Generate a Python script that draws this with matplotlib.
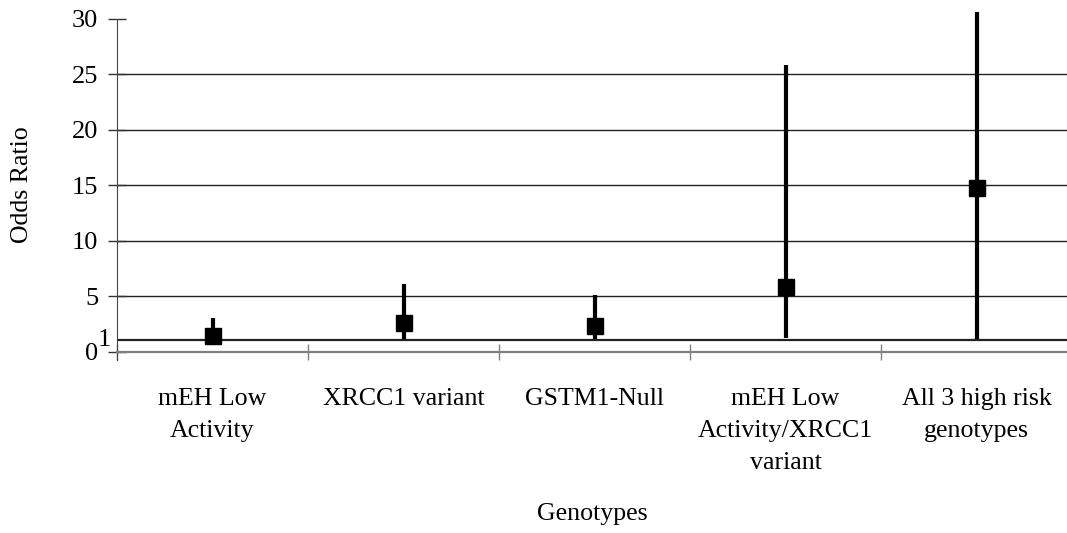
import numpy as np
import matplotlib
matplotlib.use('Agg')
import matplotlib.pyplot as plt
from matplotlib.transforms import blended_transform_factory, offset_copy

genotypes = ['mEH Low\nActivity', 'XRCC1 variant', 'GSTM1-Null',
             'mEH Low\nActivity/XRCC1\nvariant', 'All 3 high risk\ngenotypes']
odds_ratio = [1.4, 2.6, 2.3, 5.8, 14.7]
ci_lower = [0.7, 1.1, 1.1, 1.2, 1.1]
ci_upper = [3.0, 6.1, 5.1, 25.8, 33.0]

grid_values = [5, 10, 15, 20, 25]
ytick_values = [0, 5, 10, 15, 20, 25, 30]
reference_or = 1


def main():
    plt.rcParams['font.family'] = ['Liberation Serif', 'DejaVu Serif']

    fig = plt.figure(figsize=(10.67, 5.33), dpi=100)
    ax = fig.add_axes([0.1097, 0.3405, 0.895, 0.637])

    x = np.arange(len(genotypes))
    y = np.array(odds_ratio)
    lo = y - np.array(ci_lower)
    hi = np.array(ci_upper) - y

    # horizontal grid and the OR = 1 line
    for g in grid_values:
        ax.axhline(g, color='#222222', lw=1.0, zorder=1)
    ax.axhline(reference_or, color='#222222', lw=1.6, zorder=1)

    ax.errorbar(x, y, yerr=[lo, hi], fmt='s', color='black', ms=11.5,
                elinewidth=3.0, capsize=0, zorder=3)

    ax.set_xlim(-0.5, len(genotypes) - 0.5)
    ax.set_ylim(0, 30.6)

    ax.spines['right'].set_visible(False)
    ax.spines['top'].set_visible(False)
    ax.spines['left'].set_color('#444444')
    ax.spines['left'].set_bounds(-0.75, 30)
    ax.spines['bottom'].set_color('#808080')
    ax.spines['bottom'].set_linewidth(1.6)

    ax.set_yticks(ytick_values)
    ax.set_yticklabels([str(v) for v in ytick_values], fontsize=19)
    ax.tick_params(axis='y', direction='inout', length=13, width=1,
                   color='#333333', pad=7)

    # the "1" label sits a little to the right of the others
    trans = blended_transform_factory(ax.transAxes, ax.transData)
    trans = offset_copy(trans, fig=fig, x=-6, y=0, units='dots')
    ax.text(0, reference_or, '1', transform=trans, ha='right', va='center',
            fontsize=19)

    # category boundaries carry the ticks, names sit between them
    ax.set_xticks(np.arange(len(genotypes) + 1) - 0.5)
    ax.set_xticklabels([])
    ax.set_xticks(x, minor=True)
    ax.set_xticklabels(genotypes, minor=True, fontsize=18.6, linespacing=1.6)
    ax.tick_params(axis='x', which='major', direction='inout', length=12,
                   width=1, color='#808080')
    ax.tick_params(axis='x', which='minor', length=0, pad=26)

    fig.text(22 / 1067, 1 - 185 / 533, 'Odds Ratio', rotation=90,
             ha='center', va='center', fontsize=18.6)
    fig.text(592 / 1067, 1 - 514 / 533, 'Genotypes',
             ha='center', va='center', fontsize=18.6)

    fig.savefig('out.png', dpi=100)


if __name__ == '__main__':
    main()
